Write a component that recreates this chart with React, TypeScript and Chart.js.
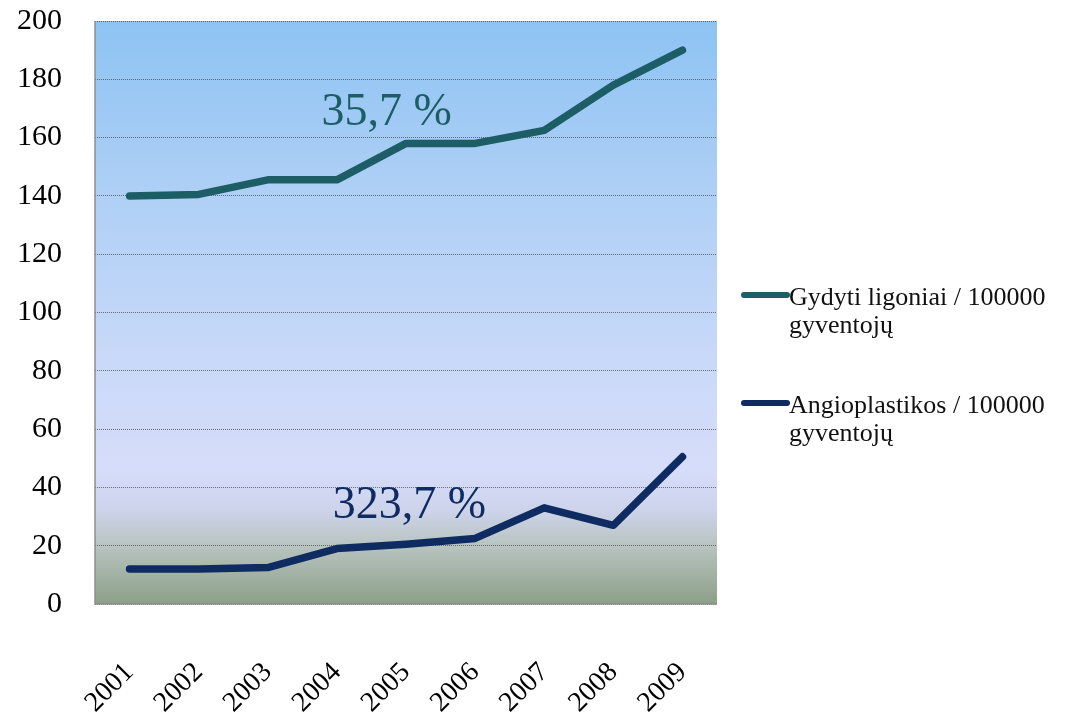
import React, { useEffect, useRef } from "react";
import { Chart, registerables } from "chart.js";

Chart.register(...registerables);

const years = ["2001", "2002", "2003", "2004", "2005", "2006", "2007", "2008", "2009"];
const gydytiValues = [140, 140.5, 145.5, 145.5, 158, 158, 162.5, 178, 190];
const angioValues = [12, 12, 12.5, 19, 20.5, 22.5, 33, 27, 50.5];
const seriesNames = [
  ["Gydyti ligoniai / 100000", "gyventojų"],
  ["Angioplastikos / 100000", "gyventojų"],
];
const seriesColors = ["#1D5E66", "#0E2B62"];
const annotationTexts = ["35,7 %", "323,7 %"];
const annotationIndex = [3.72, 4.05];
const annotationValues = [164.2, 29.6];
const yTicks = [0, 20, 40, 60, 80, 100, 120, 140, 160, 180, 200];

const SERIF = "'Liberation Serif', 'DejaVu Serif', serif";

const backgroundPlugin = {
  id: "bgPlugin",
  beforeDraw(chart: any) {
    const { ctx, chartArea } = chart;
    const { left, right, top, bottom } = chartArea;
    const g = ctx.createLinearGradient(0, top, 0, bottom);
    g.addColorStop(0, "#8DC3F3");
    g.addColorStop(0.31, "#B0D0F6");
    g.addColorStop(0.62, "#CCDAF9");
    g.addColorStop(0.77, "#D6DDFA");
    g.addColorStop(0.84, "#CDD3EA");
    g.addColorStop(0.9, "#B8C4C0");
    g.addColorStop(1, "#8C9F88");
    ctx.save();
    ctx.fillStyle = g;
    ctx.fillRect(left, top, right - left, bottom - top);
    ctx.restore();
  },
  beforeDatasetsDraw(chart: any) {
    const { ctx, chartArea } = chart;
    const { left, right, top, bottom } = chartArea;
    ctx.save();
    ctx.strokeStyle = "#8E8E8E";
    ctx.lineWidth = 1.5;
    ctx.beginPath();
    ctx.moveTo(left, top);
    ctx.lineTo(left, bottom);
    ctx.lineTo(right, bottom);
    ctx.stroke();
    ctx.restore();
  },
  afterDatasetsDraw(chart: any) {
    const { ctx, chartArea, scales } = chart;
    ctx.save();
    ctx.textAlign = "center";
    ctx.textBaseline = "alphabetic";
    ctx.font = `46px ${SERIF}`;
    annotationTexts.forEach((t, i) => {
      const x = scales.x.getPixelForValue(annotationIndex[i]);
      const y = scales.y.getPixelForValue(annotationValues[i]);
      ctx.fillStyle = seriesColors[i];
      ctx.fillText(t, x, y);
    });
    const lx0 = chartArea.right + 27;
    const lx1 = chartArea.right + 70;
    const firstY = chartArea.top + 274;
    const entryGap = 108;
    const lineHeight = 28;
    ctx.font = `26px ${SERIF}`;
    ctx.textAlign = "left";
    seriesNames.forEach((lines, i) => {
      const cy = firstY + i * entryGap;
      ctx.strokeStyle = seriesColors[i];
      ctx.lineWidth = 6;
      ctx.lineCap = "round";
      ctx.beginPath();
      ctx.moveTo(lx0, cy);
      ctx.lineTo(lx1, cy);
      ctx.stroke();
      ctx.fillStyle = "#111";
      lines.forEach((ln, j) => {
        ctx.fillText(ln, lx1 + 2, cy + 10 + j * lineHeight);
      });
    });
    ctx.restore();
  },
};

export default function App() {
  const ref = useRef<HTMLCanvasElement | null>(null);
  useEffect(() => {
    if (!ref.current) return;
    const chart = new Chart(ref.current, {
      type: "line",
      data: {
        labels: years,
        datasets: [
          {
            label: seriesNames[0].join(" "),
            data: gydytiValues,
            borderColor: seriesColors[0],
            backgroundColor: seriesColors[0],
            borderWidth: 7.5,
            pointRadius: 0,
            tension: 0,
            borderCapStyle: "round",
            borderJoinStyle: "round",
          },
          {
            label: seriesNames[1].join(" "),
            data: angioValues,
            borderColor: seriesColors[1],
            backgroundColor: seriesColors[1],
            borderWidth: 7.5,
            pointRadius: 0,
            tension: 0,
            borderCapStyle: "round",
            borderJoinStyle: "round",
          },
        ],
      },
      options: {
        responsive: false,
        animation: false,
        layout: { padding: { top: 21, right: 353, left: 0, bottom: 0 } },
        plugins: {
          legend: { display: false },
          tooltip: { enabled: false },
        },
        scales: {
          x: {
            type: "category",
            offset: true,
            grid: { display: false, drawTicks: false },
            border: { display: false },
            ticks: {
              minRotation: 45,
              maxRotation: 45,
              padding: 52,
              color: "#000",
              font: { family: SERIF, size: 28 },
            },
            afterFit(s: any) {
              s.height = 123;
            },
          },
          y: {
            min: 0,
            max: 200,
            afterBuildTicks(s: any) {
              s.ticks = yTicks.map((v) => ({ value: v }));
            },
            grid: {
              color: "rgba(70,70,70,0.75)",
              lineWidth: 1,
              drawTicks: true,
              tickLength: 33,
              tickColor: "rgba(0,0,0,0)",
            },
            border: { display: false, dash: [1, 1] },
            ticks: {
              padding: 0,
              color: "#000",
              font: { family: SERIF, size: 30 },
            },
            afterFit(s: any) {
              s.width = 95;
            },
          },
        },
      },
      plugins: [backgroundPlugin],
    });
    return () => chart.destroy();
  }, []);
  return (
    <div style={{ position: "fixed", left: 0, top: 0, width: 1070, height: 727, background: "#fff" }}>
      <canvas ref={ref} width={1070} height={727} style={{ display: "block" }} />
    </div>
  );
}
